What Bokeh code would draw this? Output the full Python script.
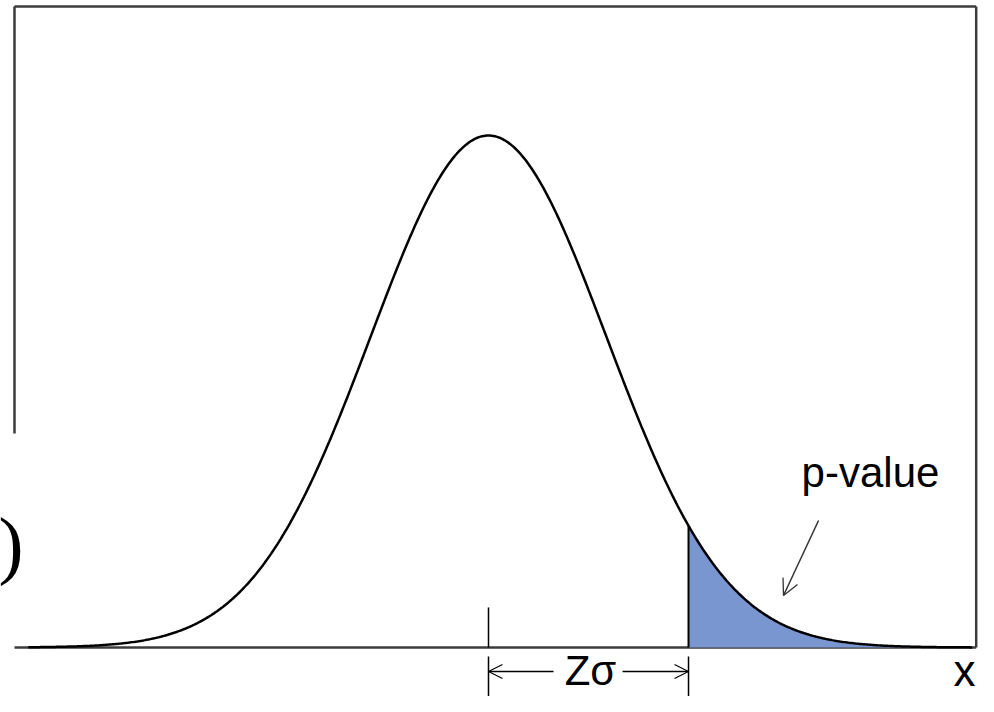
import numpy as np
from bokeh.plotting import figure
from bokeh.models import Range1d, Arrow, OpenHead
from bokeh.core.properties import value
from bokeh.embed import file_html
from bokeh.resources import INLINE

# ---- data ----
mu = 0.0            # mean of the normal curve
sigma = 1.0         # standard deviation (z units)
z_obs = 1.695       # observed statistic: Z sigma from the mean
z_start = -3.9      # where the drawn curve starts
z_end = 4.1         # where the drawn curve ends
label_x = "x"
label_p = "p-value"
label_z = "Zσ"
label_f = "f(Z)"

z = np.linspace(z_start, z_end, 600)
pdf = np.exp(-0.5 * ((z - mu) / sigma) ** 2) / (sigma * np.sqrt(2 * np.pi))
z_tail = np.concatenate([[z_obs], z[z >= z_obs]])
pdf_tail = np.exp(-0.5 * ((z_tail - mu) / sigma) ** 2) / (sigma * np.sqrt(2 * np.pi))

# ---- figure ----
W, H = 978, 696
p = figure(width=W, height=H, output_backend="svg", toolbar_location=None,
           x_range=Range1d(-4.1356, 4.1525), y_range=Range1d(-0.03818, 0.50413),
           min_border=0, x_axis_location=None, y_axis_location=None)
p.grid.visible = False
p.outline_line_color = None
p.background_fill_color = "white"
p.border_fill_color = "white"

box_col = "#3c3c3c"
# frame (left side partly hidden as in the reference)
xl, xr, yt = -4.017, 4.133, 0.4995
p.segment(x0=[xl, xr, xl, xl], y0=[yt, yt, yt, 0.0],
          x1=[xr, xr, xl, xr], y1=[yt, 0.0, 0.1667, 0.0],
          line_color=box_col, line_width=2.5)

# shaded tail
p.varea(x=z_tail, y1=0, y2=pdf_tail, fill_color="#7a96d0")
p.segment(x0=[z_obs], y0=[0], x1=[z_obs], y1=[pdf_tail[0]], line_color="black", line_width=2)

# curve
p.line(z, pdf, line_color="black", line_width=2.5)

# mean tick
p.segment(x0=[mu], y0=[0], x1=[mu], y1=[0.0312], line_color="black", line_width=1.5)

# Z sigma dimension
p.segment(x0=[mu, z_obs], y0=[-0.0070, -0.0070], x1=[mu, z_obs], y1=[-0.05, -0.05],
          line_color="black", line_width=1.5)
ya = -0.0187
p.add_layout(Arrow(end=OpenHead(size=14, line_width=1.2, line_color="black"),
                   x_start=0.551, y_start=ya, x_end=mu, y_end=ya,
                   line_color="black", line_width=1.3))
p.add_layout(Arrow(end=OpenHead(size=14, line_width=1.2, line_color="black"),
                   x_start=1.136, y_start=ya, x_end=z_obs, y_end=ya,
                   line_color="black", line_width=1.3))

# p-value arrow
p.add_layout(Arrow(end=OpenHead(size=16, line_width=1.3, line_color="#333333"),
                   x_start=2.797, y_start=0.0990, x_end=2.50, y_end=0.0405,
                   line_color="#333333", line_width=1.5))

font = value("Liberation Sans")
p.text(x=[0.864], y=[-0.0179], text=[label_z], text_font=font, text_font_size="42px",
       text_align="center", text_baseline="alphabetic", text_color="black")
p.text(x=[3.237], y=[0.1364], text=[label_p], text_font=font, text_font_size="42px",
       text_align="center", text_baseline="alphabetic", text_color="black")
p.text(x=[4.034], y=[-0.0179], text=[label_x], text_font=font, text_font_size="44px",
       text_align="center", text_baseline="alphabetic", text_color="black")
p.text(x=[-3.941], y=[0.0803], text=[label_f], text_font=value("Liberation Serif"),
       text_font_size="76px", text_align="right", text_baseline="middle",
       text_color="black")

open("out.html", "w").write(file_html(p, INLINE))
